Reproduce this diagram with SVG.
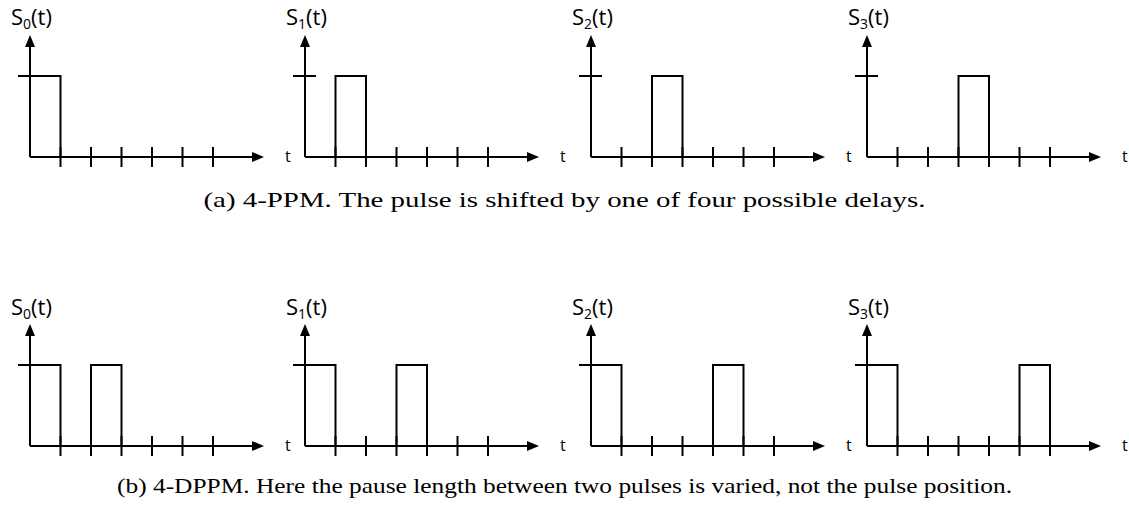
<svg xmlns="http://www.w3.org/2000/svg" xmlns:xlink="http://www.w3.org/1999/xlink" width="1129" height="507" viewBox="0 0 1129 507">
<style>
.ln{stroke:#000;stroke-width:2;fill:none}
.ah{fill:#000;stroke:none}
.lbl{font-family:"Open Sans","Noto Sans",sans-serif;font-size:22px;fill:#000}
.sub{font-size:14px}
.t{font-family:"Open Sans","Noto Sans",sans-serif;font-size:16px;fill:#000}
.cap{font-family:"Liberation Serif","DejaVu Serif",serif;font-size:22px;fill:#000}
</style>
<defs>
<g id="axes">
<path class="ln" d="M0,0 V-112 M0,0 H223 M-12,-81 H11 M30.5,-10 V10 M61,-10 V10 M91.5,-10 V10 M122,-10 V10 M152.5,-10 V10 M183,-10 V10"/>
<polygon class="ah" points="0,-122 -5,-110 5,-110"/>
<polygon class="ah" points="234,0 222,-5 222,5"/>
<text class="t" x="255" y="5">t</text>
</g>
</defs>
<g id="ppm-s0" transform="translate(30,157)">
<use xlink:href="#axes"/>
<path class="ln" d="M0,0 V-81 H30.5 V0"/>
<text class="lbl" x="-19" y="-132">S<tspan class="sub" dy="4">0</tspan><tspan dy="-4">(t)</tspan></text>
</g>
<g id="ppm-s1" transform="translate(305,157)">
<use xlink:href="#axes"/>
<path class="ln" d="M30.5,0 V-81 H61 V0"/>
<text class="lbl" x="-19" y="-132">S<tspan class="sub" dy="4">1</tspan><tspan dy="-4">(t)</tspan></text>
</g>
<g id="ppm-s2" transform="translate(591,157)">
<use xlink:href="#axes"/>
<path class="ln" d="M61,0 V-81 H91.5 V0"/>
<text class="lbl" x="-19" y="-132">S<tspan class="sub" dy="4">2</tspan><tspan dy="-4">(t)</tspan></text>
</g>
<g id="ppm-s3" transform="translate(867,157)">
<use xlink:href="#axes"/>
<path class="ln" d="M91.5,0 V-81 H122 V0"/>
<text class="lbl" x="-19" y="-132">S<tspan class="sub" dy="4">3</tspan><tspan dy="-4">(t)</tspan></text>
</g>
<text id="caption-a" class="cap" x="564.5" y="207" text-anchor="middle" textLength="722" lengthAdjust="spacingAndGlyphs">(a) 4-PPM. The pulse is shifted by one of four possible delays.</text>
<g id="dppm-s0" transform="translate(30,446)">
<use xlink:href="#axes"/>
<path class="ln" d="M0,0 V-81 H30.5 V0 M61,0 V-81 H91.5 V0"/>
<text class="lbl" x="-19" y="-131">S<tspan class="sub" dy="4">0</tspan><tspan dy="-4">(t)</tspan></text>
</g>
<g id="dppm-s1" transform="translate(305,446)">
<use xlink:href="#axes"/>
<path class="ln" d="M0,0 V-81 H30.5 V0 M91.5,0 V-81 H122 V0"/>
<text class="lbl" x="-19" y="-131">S<tspan class="sub" dy="4">1</tspan><tspan dy="-4">(t)</tspan></text>
</g>
<g id="dppm-s2" transform="translate(591,446)">
<use xlink:href="#axes"/>
<path class="ln" d="M0,0 V-81 H30.5 V0 M122,0 V-81 H152.5 V0"/>
<text class="lbl" x="-19" y="-131">S<tspan class="sub" dy="4">2</tspan><tspan dy="-4">(t)</tspan></text>
</g>
<g id="dppm-s3" transform="translate(867,446)">
<use xlink:href="#axes"/>
<path class="ln" d="M0,0 V-81 H30.5 V0 M152.5,0 V-81 H183 V0"/>
<text class="lbl" x="-19" y="-131">S<tspan class="sub" dy="4">3</tspan><tspan dy="-4">(t)</tspan></text>
</g>
<text id="caption-b" class="cap" x="564.5" y="493" text-anchor="middle" textLength="895" lengthAdjust="spacingAndGlyphs">(b) 4-DPPM. Here the pause length between two pulses is varied, not the pulse position.</text>
</svg>
